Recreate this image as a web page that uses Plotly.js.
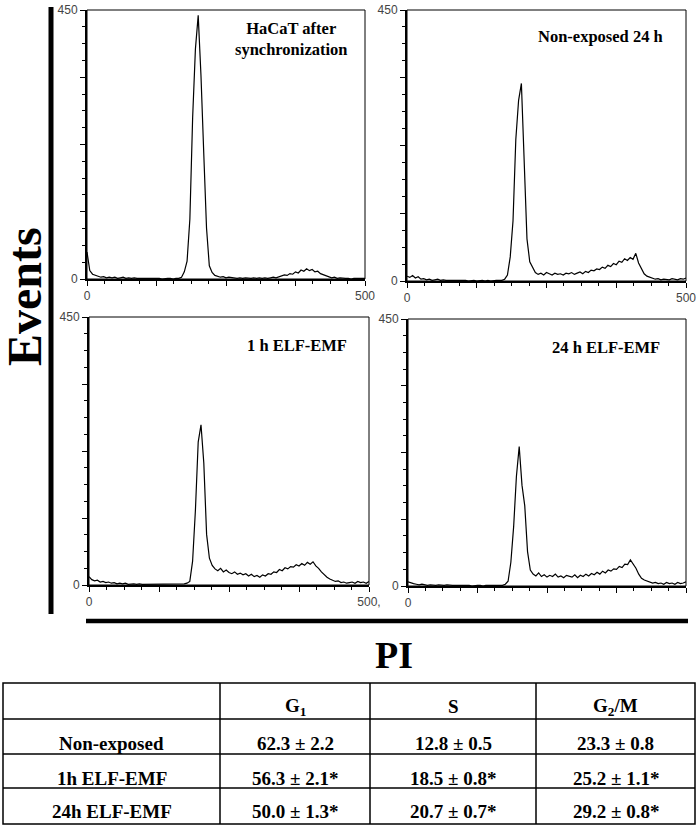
<!DOCTYPE html>
<html>
<head>
<meta charset="utf-8">
<script src="https://cdn.plot.ly/plotly-3.0.1.min.js"></script>
<style>
  body { margin: 0; background: #fff; }
  #chart { width: 697px; height: 826px; }
</style>
</head>
<body>
<div id="chart"></div>
<script>
// PI channel (x) shared by all four histograms
var channels = [0, 5, 10, 15, 20, 25, 30, 35, 40, 45, 50, 55, 60, 65, 70, 75, 80, 85, 90, 95,
  100, 105, 110, 115, 120, 125, 130, 135, 140, 145, 150, 155, 160, 165, 170, 175, 180, 185, 190, 195,
  200, 205, 210, 215, 220, 225, 230, 235, 240, 245, 250, 255, 260, 265, 270, 275, 280, 285, 290, 295,
  300, 305, 310, 315, 320, 325, 330, 335, 340, 345, 350, 355, 360, 365, 370, 375, 380, 385, 390, 395,
  400, 405, 410, 415, 420, 425, 430, 435, 440, 445, 450, 455, 460, 465, 470, 475, 480, 485, 490, 495, 500];

// events per channel
var hacatSync = [45, 14, 8, 6, 4, 3, 4, 2, 3, 2, 3, 1, 2, 3, 1, 2, 1, 2, 1, 1,
  2, 1, 1, 2, 1, 1, 1, 0, 1, 1, 1, 0, 1, 1, 3, 12, 30, 100, 270, 385,
  441, 340, 210, 85, 22, 11, 6, 4, 3, 4, 2, 3, 2, 2, 1, 2, 1, 2, 1, 1,
  2, 1, 2, 1, 2, 1, 2, 3, 2, 4, 5, 7, 6, 9, 8, 12, 10, 15, 13, 17,
  14, 16, 12, 13, 9, 7, 5, 4, 2, 3, 1, 2, 1, 1, 1, 0, 1, 1, 0, 1, 1];

var nonExposed24h = [8, 6, 9, 5, 7, 3, 4, 2, 3, 1, 2, 3, 1, 2, 1, 1, 2, 1, 1, 1,
  1, 1, 0, 1, 1, 0, 1, 1, 0, 1, 0, 1, 1, 1, 1, 3, 10, 40, 100, 235,
  300, 328, 205, 70, 32, 22, 14, 11, 13, 10, 14, 12, 10, 13, 11, 12, 10, 13, 12, 14,
  11, 13, 15, 12, 16, 14, 18, 17, 20, 19, 23, 21, 26, 24, 29, 27, 33, 31, 37, 34,
  39, 36, 46, 30, 22, 12, 8, 6, 5, 3, 4, 2, 3, 3, 2, 4, 3, 2, 4, 3, 5];

var elf1h = [14, 9, 7, 8, 5, 6, 4, 5, 3, 4, 2, 3, 2, 3, 1, 2, 2, 1, 2, 1,
  1, 2, 1, 1, 1, 2, 1, 1, 1, 1, 2, 1, 1, 2, 2, 3, 6, 40, 125, 240,
  269, 205, 85, 45, 33, 27, 24, 28, 22, 25, 21, 19, 22, 18, 20, 17, 19, 15, 18, 14,
  16, 13, 17, 15, 19, 18, 22, 21, 26, 24, 29, 27, 31, 30, 34, 32, 36, 33, 38, 35,
  39, 32, 28, 22, 17, 13, 10, 8, 6, 7, 4, 5, 3, 4, 5, 3, 6, 4, 5, 3, 6];

var elf24h = [7, 5, 4, 3, 2, 3, 2, 1, 2, 1, 1, 2, 1, 1, 2, 1, 1, 1, 1, 2,
  1, 1, 1, 0, 1, 1, 1, 0, 1, 1, 1, 1, 1, 1, 1, 3, 8, 40, 100, 185,
  235, 170, 135, 58, 27, 20, 17, 22, 16, 19, 15, 18, 16, 20, 15, 17, 14, 18, 16, 15,
  19, 14, 18, 16, 20, 17, 21, 19, 23, 20, 25, 22, 27, 25, 29, 28, 33, 31, 37, 36,
  44, 38, 30, 20, 13, 10, 8, 7, 5, 6, 4, 5, 3, 6, 4, 5, 3, 6, 4, 5, 7];

var panelLabels = ["HaCaT after<br>synchronization", "Non-exposed 24 h", "1 h ELF-EMF", "24 h ELF-EMF"];
var xEndLabels = ["500", "500", "500,", "500,"];

// table
var phaseHeaders = ["G<sub>1</sub>", "S", "G<sub>2</sub>/M"];
var groups = ["Non-exposed", "1h ELF-EMF", "24h ELF-EMF"];
var g1Values = ["62.3 ± 2.2", "56.3 ± 2.1*", "50.0 ± 1.3*"];
var sValues = ["12.8 ± 0.5", "18.5 ± 0.8*", "20.7 ± 0.7*"];
var g2mValues = ["23.3 ± 0.8", "25.2 ± 1.1*", "29.2 ± 0.8*"];

var W = 697, H = 826;
function px(x) { return x / W; }
function py(y) { return 1 - y / H; }

// panel boxes in pixels: [left, right, top, bottom]
var boxes = [[87, 365, 10, 279], [407, 686, 10, 281], [89, 369, 317, 585], [408, 686, 319, 586]];
var labelPos = [[291, 39], [600, 36], [297, 346], [606, 347]];
var series = [hacatSync, nonExposed24h, elf1h, elf24h];

var tickFont = { family: "Liberation Sans, Arial, sans-serif", size: 12, color: "#444" };
var serif = "Liberation Serif, Times New Roman, serif";

var data = [];
var layout = {
  width: W, height: H,
  margin: { l: 0, r: 0, t: 0, b: 0 },
  paper_bgcolor: "#fff", plot_bgcolor: "#fff",
  showlegend: false,
  shapes: [], annotations: []
};

series.forEach(function (ys, i) {
  var n = i === 0 ? "" : String(i + 1);
  var b = boxes[i];
  data.push({
    x: channels, y: ys, xaxis: "x" + n, yaxis: "y" + n,
    type: "scatter", mode: "lines",
    line: { color: "#000", width: 1.2 },
    hoverinfo: "skip"
  });
  layout["xaxis" + n] = {
    domain: [px(b[0]), px(b[1])], anchor: "y" + n,
    range: [0, 500], showgrid: false, zeroline: false,
    showline: true, linewidth: 2, linecolor: "#000",
    tickmode: "array", tickvals: [0, 125, 250, 375, 500],
    ticktext: ["0", "", "", "", xEndLabels[i]],
    ticks: "outside", ticklen: 5, tickwidth: 1, tickcolor: "#000",
    minor: { tickmode: "linear", tick0: 0, dtick: 31.25, ticks: "outside", ticklen: 3, tickcolor: "#000" },
    tickfont: tickFont
  };
  layout["yaxis" + n] = {
    domain: [py(b[3]), py(b[2])], anchor: "x" + n,
    range: [0, 450], showgrid: false, zeroline: false,
    showline: true, linewidth: 2, linecolor: "#000",
    tickmode: "array", tickvals: [0, 112.5, 225, 337.5, 450],
    ticktext: ["0", "", "", "", "450"],
    ticks: "outside", ticklen: 5, tickwidth: 1, tickcolor: "#000",
    minor: { tickmode: "linear", tick0: 0, dtick: 28.125, ticks: "outside", ticklen: 3, tickcolor: "#000" },
    tickfont: tickFont
  };
  // thin frame on top and right
  layout.shapes.push({
    type: "rect", xref: "x" + n + " domain", yref: "y" + n + " domain",
    x0: 0, x1: 1, y0: 0, y1: 1, line: { color: "#000", width: 1 }
  });
  layout.annotations.push({
    xref: "paper", yref: "paper", x: px(labelPos[i][0]), y: py(labelPos[i][1]),
    xanchor: "center", yanchor: "middle", showarrow: false, align: "center",
    text: "<b>" + panelLabels[i] + "</b>",
    font: { family: serif, size: 16.5, color: "#000" }
  });
});

// heavy axis bars
layout.shapes.push({ type: "line", xref: "paper", yref: "paper", x0: px(51), x1: px(51), y0: py(7), y1: py(614), line: { color: "#000", width: 5 } });
layout.shapes.push({ type: "line", xref: "paper", yref: "paper", x0: px(86), x1: px(688), y0: py(621), y1: py(621), line: { color: "#000", width: 4.5 } });

layout.annotations.push({
  xref: "paper", yref: "paper", x: px(24), y: py(297), textangle: -90,
  xanchor: "center", yanchor: "middle", showarrow: false,
  text: "<b>Events</b>", font: { family: serif, size: 48, color: "#000" }
});
layout.annotations.push({
  xref: "paper", yref: "paper", x: px(394), y: py(655),
  xanchor: "center", yanchor: "middle", showarrow: false,
  text: "<b>PI</b>", font: { family: serif, size: 38, color: "#000" }
});

// table grid
var colEdges = [3, 220, 370, 536, 695];
var rowEdges = [683, 719, 754, 788, 824];
layout.shapes.push({ type: "rect", xref: "paper", yref: "paper", x0: px(3), x1: px(695), y0: py(683), y1: py(824), line: { color: "#000", width: 1.5 } });
rowEdges.slice(1, 4).forEach(function (y) {
  layout.shapes.push({ type: "line", xref: "paper", yref: "paper", x0: px(3), x1: px(695), y0: py(y), y1: py(y), line: { color: "#000", width: 1.5 } });
});
colEdges.slice(1, 4).forEach(function (x) {
  layout.shapes.push({ type: "line", xref: "paper", yref: "paper", x0: px(x), x1: px(x), y0: py(683), y1: py(824), line: { color: "#000", width: 1.5 } });
});

var textRowY = [706.5, 743.5, 778.5, 811.5];
function cell(col, row, txt) {
  layout.annotations.push({
    xref: "paper", yref: "paper",
    x: px((colEdges[col] + colEdges[col + 1]) / 2), y: py(textRowY[row]),
    xanchor: "center", yanchor: "middle", showarrow: false,
    text: "<b>" + txt + "</b>", font: { family: serif, size: 19, color: "#000" }
  });
}
phaseHeaders.forEach(function (h, j) { cell(j + 1, 0, h); });
groups.forEach(function (g, r) {
  cell(0, r + 1, g);
  cell(1, r + 1, g1Values[r]);
  cell(2, r + 1, sValues[r]);
  cell(3, r + 1, g2mValues[r]);
});

Plotly.newPlot("chart", data, layout, { displayModeBar: false, staticPlot: true });
</script>
</body>
</html>
